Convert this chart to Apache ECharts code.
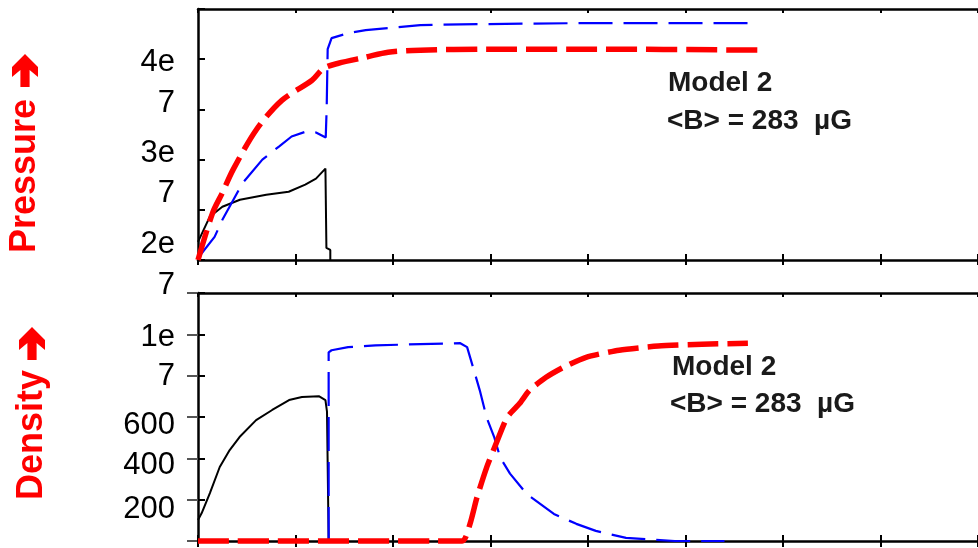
<!DOCTYPE html>
<html>
<head>
<meta charset="utf-8">
<script src="https://cdn.jsdelivr.net/npm/echarts@6/dist/echarts.min.js"></script>
<style>
  html, body { margin: 0; padding: 0; background: #fff; }
  #chart { width: 978px; height: 548px; }
</style>
</head>
<body>
<div id="chart"></div>
<script>
// ---------- Data ----------
// Top panel: Pressure (values in units of 1e7)
const pressureTicks = [2, 2.5, 3, 3.5, 4, 4.5];
const pressureTickLabels = ['2e', '7', '3e', '7', '4e', ''];

const pBlackX = [0, 0.12, 0.25, 0.43, 0.70, 0.93, 1.10, 1.21, 1.307, 1.317, 1.357, 1.357];
const pBlackY = [2.18, 2.43, 2.53, 2.60, 2.65, 2.68, 2.75, 2.81, 2.91, 2.12, 2.10, 2.0];

const pBlueX = [0, 0.17, 0.25, 0.46, 0.66, 0.83, 0.96, 1.11, 1.21, 1.31, 1.32, 1.33, 1.37, 1.54, 1.72, 1.95, 2.28, 2.96, 3.98, 5.66];
const pBlueY = [2.02, 2.23, 2.40, 2.77, 3.0, 3.13, 3.23, 3.28, 3.27, 3.22, 3.52, 4.10, 4.21, 4.26, 4.29, 4.31, 4.34, 4.35, 4.36, 4.36];

const pRedX = [0, 0.15, 0.25, 0.36, 0.60, 0.86, 1.17, 1.29, 1.44, 1.72, 1.95, 2.28, 2.96, 3.98, 5.81];
const pRedY = [2.0, 2.47, 2.67, 2.90, 3.30, 3.59, 3.79, 3.91, 3.96, 4.02, 4.07, 4.09, 4.10, 4.10, 4.09];

// Bottom panel: Density
const densityTicks = [0, 200, 400, 600, 800, 1000, 1200];
const densityTickLabels = ['', '200', '400', '600', '7', '1e', '7'];

const dBlackX = [0, 0.038, 0.122, 0.223, 0.325, 0.426, 0.596, 0.761, 0.934, 1.066, 1.239, 1.307, 1.323, 1.34];
const dBlackY = [102, 135, 232, 358, 440, 503, 585, 634, 682, 697, 701, 682, 626, 0];

const dBlueX = [1.34, 1.34, 1.37, 1.54, 1.82, 2.69, 2.76, 2.83, 2.89, 2.96, 3.04, 3.10, 3.20, 3.37, 3.65, 3.88, 4.08, 4.39, 4.89, 5.40];
const dBlueY = [0, 913, 923, 938, 947, 957, 938, 826, 729, 598, 500, 403, 326, 228, 131, 83, 49, 15, 0, 0];

const dRedX = [0, 2.71, 2.79, 2.86, 2.96, 3.07, 3.17, 3.30, 3.40, 3.57, 3.75, 3.98, 4.32, 4.72, 5.17, 5.64];
const dRedY = [0, 0, 83, 209, 355, 486, 598, 666, 729, 792, 841, 889, 923, 943, 952, 957];

const annotationLines = ['Model 2', '<B> = 283  µG'];
const pressureTitle = 'Pressure';
const densityTitle = 'Density';

// ---------- Styling helpers ----------
const pressureShift = [-16, -16, -6, -6, 3, 0];
const densityShift = [0, 10, 7, 8, 1, 3, -8];
const labelFont = { fontSize: 31, fontFamily: '"Liberation Sans", Arial, sans-serif', color: '#000' };

function richFor(shifts) {
  const r = {};
  shifts.forEach((s, i) => {
    r['s' + i] = Object.assign({}, labelFont, {
      padding: s >= 0 ? [2 * s, 0, 0, 0] : [0, 0, -2 * s, 0]
    });
  });
  return r;
}
function zip(xs, ys) { return xs.map((x, i) => [x, ys[i]]); }

function xAx(grid, pos, opts) {
  return Object.assign({
    type: 'value', gridIndex: grid, position: pos, min: 0, max: 8, interval: 1,
    axisLine: { show: true, onZero: false, lineStyle: { color: '#000', width: 2.5 } },
    axisTick: { show: true, inside: true, length: 6, lineStyle: { color: '#000', width: 2 } },
    axisLabel: { show: false }, splitLine: { show: false }
  }, opts || {});
}

// upward block arrow (decoration next to axis titles), tip at (cx, ty)
function upArrow(cx, ty) {
  const p = [[0, 0], [13, 13], [13, 23], [4.6, 16], [4.6, 33], [-4.6, 33], [-4.6, 16], [-13, 23], [-13, 13]];
  return {
    type: 'polygon', silent: true,
    shape: { points: p.map(q => [cx + q[0], ty + q[1]]) },
    style: { fill: '#ff0000' }
  };
}

const option = {
  animation: false,
  backgroundColor: '#ffffff',
  grid: [
    { left: 198, top: 9, width: 788, height: 251 },
    { left: 198, top: 293, width: 788, height: 248 }
  ],
  xAxis: [
    xAx(0, 'bottom'),
    xAx(0, 'top', { axisTick: { show: true, inside: true, length: 4, lineStyle: { color: '#000', width: 2 } } }),
    xAx(1, 'bottom'),
    xAx(1, 'top', { axisTick: { show: true, inside: true, length: 4, lineStyle: { color: '#000', width: 2 } } }),
    xAx(0, 'bottom', { axisLine: { show: false }, axisTick: { show: true, inside: false, length: 5, lineStyle: { color: '#000', width: 2 } } }),
    xAx(1, 'bottom', { axisLine: { show: false }, axisTick: { show: true, inside: false, length: 6, lineStyle: { color: '#000', width: 2 } } })
  ],
  yAxis: [
    {
      type: 'value', gridIndex: 0, position: 'left', min: 2, max: 4.5, interval: 0.5,
      axisLine: { show: true, onZero: false, lineStyle: { color: '#000', width: 2.5 } },
      axisTick: { show: true, inside: true, length: 7, lineStyle: { color: '#000', width: 2 } },
      splitLine: { show: false },
      axisLabel: Object.assign({}, labelFont, {
        margin: 23, showMinLabel: true, showMaxLabel: true,
        formatter: function (v) {
          const i = pressureTicks.findIndex(t => Math.abs(t - v) < 1e-6);
          if (i < 0 || !pressureTickLabels[i]) return '';
          return '{s' + i + '|' + pressureTickLabels[i] + '}';
        },
        rich: richFor(pressureShift)
      })
    },
    {
      type: 'value', gridIndex: 1, position: 'left', min: 0, max: 1200, interval: 200,
      axisLine: { show: true, onZero: false, lineStyle: { color: '#000', width: 2.5 } },
      axisTick: { show: true, inside: true, length: 7, lineStyle: { color: '#000', width: 2 } },
      splitLine: { show: false },
      axisLabel: Object.assign({}, labelFont, {
        margin: 23, showMinLabel: true, showMaxLabel: true,
        formatter: function (v) {
          const i = densityTicks.findIndex(t => Math.abs(t - v) < 1e-6);
          if (i < 0 || !densityTickLabels[i]) return '';
          return '{s' + i + '|' + densityTickLabels[i] + '}';
        },
        rich: richFor(densityShift)
      })
    },
    {
      type: 'value', gridIndex: 1, position: 'right', min: 0, max: 1200, interval: 200,
      axisLine: { show: false },
      axisTick: { show: true, inside: true, length: 11, lineStyle: { color: '#555', width: 2 } },
      splitLine: { show: false }, axisLabel: { show: false }
    }
  ],
  series: [
    { type: 'line', xAxisIndex: 0, yAxisIndex: 0, data: zip(pBlackX, pBlackY), showSymbol: false, symbol: 'none', clip: false,
      lineStyle: { color: '#000000', width: 2 } },
    { type: 'line', xAxisIndex: 0, yAxisIndex: 0, data: zip(pBlueX, pBlueY), showSymbol: false, symbol: 'none', clip: false,
      lineStyle: { color: '#0000ff', width: 2.2, type: [34, 11], cap: 'butt' } },
    { type: 'line', xAxisIndex: 0, yAxisIndex: 0, data: zip(pRedX, pRedY), showSymbol: false, symbol: 'none', clip: false,
      smooth: 0.3,
      lineStyle: { color: '#ff0000', width: 5.5, type: [31, 9], cap: 'butt' } },
    { type: 'line', xAxisIndex: 2, yAxisIndex: 1, data: zip(dBlackX, dBlackY), showSymbol: false, symbol: 'none', clip: false,
      lineStyle: { color: '#000000', width: 2 } },
    { type: 'line', xAxisIndex: 2, yAxisIndex: 1, data: zip(dBlueX, dBlueY), showSymbol: false, symbol: 'none', clip: false,
      lineStyle: { color: '#0000ff', width: 2.2, type: [34, 11], cap: 'butt' } },
    { type: 'line', xAxisIndex: 2, yAxisIndex: 1, data: zip(dRedX, dRedY), showSymbol: false, symbol: 'none', clip: false,
      smooth: 0.2,
      lineStyle: { color: '#ff0000', width: 5.5, type: [31, 9], cap: 'butt' } }
  ],
  graphic: [
    { type: 'text', x: 25, y: 253, rotation: Math.PI / 2,
      style: { text: pressureTitle, font: 'bold 36px "Liberation Sans", Arial, sans-serif', fill: '#ff0000', align: 'left', verticalAlign: 'middle' } },
    upArrow(25, 54),
    { type: 'text', x: 32, y: 500, rotation: Math.PI / 2,
      style: { text: densityTitle, font: 'bold 36px "Liberation Sans", Arial, sans-serif', fill: '#ff0000', align: 'left', verticalAlign: 'middle' } },
    upArrow(32, 327),
    { type: 'text', x: 668, y: 83,
      style: { text: annotationLines[0], font: 'bold 28px "Liberation Sans", Arial, sans-serif', fill: '#1a1a1a', align: 'left', verticalAlign: 'middle' } },
    { type: 'text', x: 667, y: 121,
      style: { text: annotationLines[1], font: 'bold 28px "Liberation Sans", Arial, sans-serif', fill: '#1a1a1a', align: 'left', verticalAlign: 'middle' } },
    { type: 'text', x: 672, y: 367,
      style: { text: annotationLines[0], font: 'bold 28px "Liberation Sans", Arial, sans-serif', fill: '#1a1a1a', align: 'left', verticalAlign: 'middle' } },
    { type: 'text', x: 670, y: 404,
      style: { text: annotationLines[1], font: 'bold 28px "Liberation Sans", Arial, sans-serif', fill: '#1a1a1a', align: 'left', verticalAlign: 'middle' } }
  ]
};

const chart = echarts.init(document.getElementById('chart'), null, { renderer: 'canvas' });
chart.setOption(option);
</script>
</body>
</html>
